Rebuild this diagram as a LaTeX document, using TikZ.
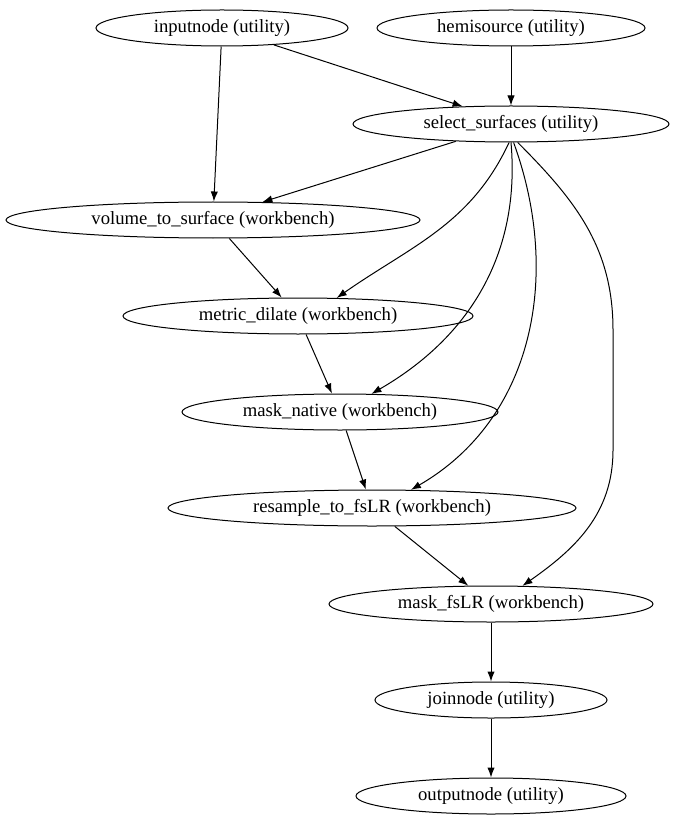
\documentclass[tikz,border=0pt]{standalone}
\usepackage{fontspec}
\setmainfont{Liberation Serif}
\usetikzlibrary{shapes.geometric,arrows.meta}
\begin{document}
\begin{tikzpicture}[x=0.75pt,y=-0.75pt,
        every node/.style={draw,ellipse,inner sep=0pt,line width=0.75pt,font=\fontsize{14}{16}\selectfont},
        link/.style={-{Latex[length=7.5pt,width=5.5pt]},line width=0.75pt}]
        \tikzset{box/.style={minimum width=#1*1.5pt,minimum height=27pt}}
        \useasboundingbox (0,0) rectangle (675,827);
        \node[box=126] (inputnode) at (222,28) {inputnode (utility)};
        \node[box=134] (hemisource) at (511,28) {hemisource (utility)};
        \node[box=158] (select) at (511,124) {select\_surfaces (utility)};
        \node[box=207] (vol2surf) at (213,220) {volume\_to\_surface (workbench)};
        \node[box=175] (dilate) at (298,316) {metric\_dilate (workbench)};
        \node[box=158] (masknative) at (340,412) {mask\_native (workbench)};
        \node[box=204] (resample) at (372,508) {resample\_to\_fsLR (workbench)};
        \node[box=162] (maskfslr) at (491,604) {mask\_fsLR (workbench)};
        \node[box=116] (joinnode) at (491,700) {joinnode (utility)};
        \node[box=135] (outputnode) at (491,796) {outputnode (utility)};
        % edges
        \draw[link] (inputnode) -- (vol2surf);
        \draw[link] (inputnode) -- (select.160);
        \draw[link] (hemisource) -- (select);
        \draw[link] (select) -- (vol2surf.20);
        \draw[link] (select.-96) to[out=-115,in=35] (dilate.25);
        \draw[link] (select.-90) to[out=-85,in=30] (masknative.30);
        \draw[link] (select.-82) to[out=-70,in=30] (resample.25);
        \draw[link] (select.-70) to[out=-45,in=90] (613,330) -- (613,450) to[out=-90,in=35] (maskfslr.30);
        \draw[link] (vol2surf) -- (dilate);
        \draw[link] (dilate) -- (masknative);
        \draw[link] (masknative) -- (resample);
        \draw[link] (resample) -- (maskfslr);
        \draw[link] (maskfslr) -- (joinnode);
        \draw[link] (joinnode) -- (outputnode);
\end{tikzpicture}
\end{document}
